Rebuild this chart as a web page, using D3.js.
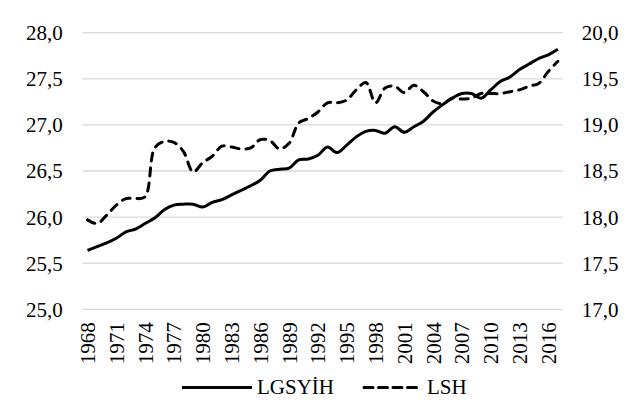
<!DOCTYPE html>
<html>
<head>
<meta charset="utf-8">
<script src="https://cdn.jsdelivr.net/npm/d3@7"></script>
<style>
  body { margin: 0; background: #fff; }
</style>
</head>
<body>
<div id="chart"></div>
<script>
/******************** data ********************/
var years = d3.range(1968, 2018);

// LGSYİH, left axis
var lgsyih = [25.64, 25.68, 25.72, 25.77, 25.84, 25.87, 25.93, 25.99, 26.08, 26.13,
              26.14, 26.14, 26.11, 26.16, 26.19, 26.24, 26.29, 26.34, 26.40, 26.50,
              26.52, 26.53, 26.62, 26.63, 26.67, 26.76, 26.70, 26.78, 26.87, 26.93,
              26.94, 26.91, 26.98, 26.92, 26.98, 27.04, 27.14, 27.22, 27.29, 27.34,
              27.34, 27.29, 27.38, 27.47, 27.52, 27.60, 27.66, 27.72, 27.76, 27.82];

// LSH, right axis
var lsh = [17.97, 17.93, 18.02, 18.13, 18.20, 18.20, 18.22, 18.75, 18.82, 18.81,
           18.71, 18.49, 18.59, 18.66, 18.77, 18.76, 18.74, 18.75, 18.84, 18.83,
           18.74, 18.80, 19.02, 19.07, 19.14, 19.24, 19.24, 19.27, 19.38, 19.46,
           19.24, 19.40, 19.42, 19.35, 19.43, 19.36, 19.26, 19.23, 19.29, 19.28,
           19.29, 19.34, 19.34, 19.34, 19.36, 19.38, 19.42, 19.45, 19.58, 19.69];

var leftTicks = [25, 25.5, 26, 26.5, 27, 27.5, 28];
var rightTicks = [17, 17.5, 18, 18.5, 19, 19.5, 20];
var yearLabels = years.filter(function(d) { return (d - 1968) % 3 == 0; });

var seriesNames = ["LGSYİH", "LSH"];

/******************** chart ********************/
var W = 638, H = 404;
var plot = {left: 82.7, right: 562.7, top: 32.7, bottom: 309.3};
var serif = '"Liberation Serif", "Times New Roman", serif';

var svg = d3.select("#chart").append("svg")
    .attr("width", W)
    .attr("height", H)
    .attr("font-family", serif)
    .attr("font-size", 21);

var x = d3.scalePoint().domain(years).range([plot.left, plot.right]).padding(0.5);
var yL = d3.scaleLinear().domain([25, 28]).range([plot.bottom, plot.top]);
var yR = d3.scaleLinear().domain([17, 20]).range([plot.bottom, plot.top]);

var fmt = function(d) { return d3.format(".1f")(d).replace(".", ","); };

// gridlines
svg.append("g")
  .selectAll("line")
  .data(leftTicks)
  .enter().append("line")
    .attr("x1", plot.left)
    .attr("x2", plot.right)
    .attr("y1", function(d) { return yL(d); })
    .attr("y2", function(d) { return yL(d); })
    .attr("stroke", "#d9d9d9")
    .attr("stroke-width", 1.3);

// drop d3's default axis font and domain line
function plain(g) {
  g.attr("font-family", serif).attr("font-size", 21);
  g.select(".domain").remove();
  g.selectAll("text").attr("fill", "#000");
}

// left axis
var gL = svg.append("g")
    .attr("transform", "translate(" + (plot.left - 20) + ",0)")
    .call(d3.axisLeft(yL).tickValues(leftTicks).tickFormat(fmt).tickSize(0).tickPadding(0))
    .call(plain);
gL.selectAll("text").attr("dy", "0.33em");

// right axis
var gR = svg.append("g")
    .attr("transform", "translate(" + (plot.right + 19) + ",0)")
    .call(d3.axisRight(yR).tickValues(rightTicks).tickFormat(fmt).tickSize(0).tickPadding(0))
    .call(plain);
gR.selectAll("text").attr("dy", "0.33em");

// x axis
var gX = svg.append("g")
    .attr("transform", "translate(0," + plot.bottom + ")")
    .call(d3.axisBottom(x).tickValues(yearLabels).tickSize(0))
    .call(plain);
gX.selectAll("text")
    .attr("transform", "rotate(-90)")
    .attr("text-anchor", "end")
    .attr("x", -13)
    .attr("y", 0)
    .attr("dy", "0.33em");

// lines
var lineL = d3.line()
    .x(function(d, i) { return x(years[i]); })
    .y(function(d) { return yL(d); })
    .curve(d3.curveCatmullRom.alpha(0.5));

var lineR = d3.line()
    .x(function(d, i) { return x(years[i]); })
    .y(function(d) { return yR(d); })
    .curve(d3.curveCatmullRom.alpha(0.5));

svg.append("path")
    .datum(lgsyih)
    .attr("d", lineL)
    .attr("fill", "none")
    .attr("stroke", "#000")
    .attr("stroke-width", 3)
    .attr("stroke-linejoin", "round");

svg.append("path")
    .datum(lsh)
    .attr("d", lineR)
    .attr("fill", "none")
    .attr("stroke", "#000")
    .attr("stroke-width", 3)
    .attr("stroke-linecap", "round")
    .attr("stroke-dasharray", "8,7");

// legend
var legY = 387.5;
var leg = svg.append("g");
leg.append("line")
    .attr("x1", 182).attr("x2", 252).attr("y1", legY).attr("y2", legY)
    .attr("stroke", "#000").attr("stroke-width", 3);
leg.append("text").attr("x", 257).attr("y", legY).attr("dy", "0.33em").text(seriesNames[0]);
leg.append("line")
    .attr("x1", 364).attr("x2", 420).attr("y1", legY).attr("y2", legY)
    .attr("stroke", "#000").attr("stroke-width", 3)
    .attr("stroke-linecap", "round").attr("stroke-dasharray", "9,5.5");
leg.append("text").attr("x", 427).attr("y", legY).attr("dy", "0.33em").text(seriesNames[1]);
</script>
</body>
</html>
